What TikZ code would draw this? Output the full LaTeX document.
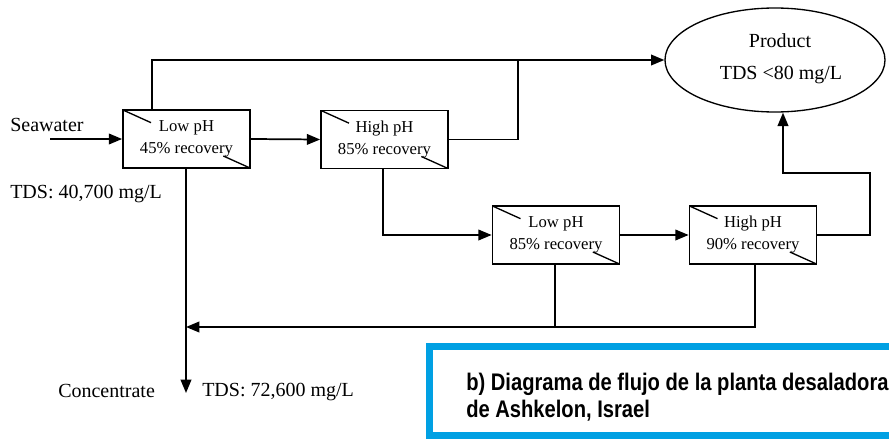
\documentclass[tikz,border=0pt]{standalone}
\usepackage{fontspec}
\setmainfont{Liberation Serif}
\newfontfamily\captfont[FakeStretch=0.84]{Liberation Sans}
\usetikzlibrary{arrows.meta,shapes.geometric,calc}
\definecolor{capblue}{RGB}{0,160,227}
\begin{document}
\begin{tikzpicture}[x=0.75pt,y=-0.75pt,
  flow/.style={line width=1.3pt,-{Triangle[length=10pt,width=8pt]}},
  plain/.style={line width=1.3pt},
  stage/.style={draw,line width=1.3pt,minimum width=95.25pt,minimum height=43.5pt,inner sep=0pt,
    align=center,font=\fontsize{12.5}{16.5}\selectfont,
    path picture={
      \draw[line width=1pt] (path picture bounding box.north west) -- ++(21pt,-9.5pt);
      \draw[line width=1pt] (path picture bounding box.south east) -- ++(-20pt,9pt);
    }},
  lbl/.style={font=\fontsize{15}{18}\selectfont,inner sep=0pt}
]
\useasboundingbox (0,0) rectangle (889,439);
% nodes
\node[stage] (b1) at (186.5,139) {Low pH\\45\% recovery};
\node[stage] (b2) at (384.5,139.5) {High pH\\85\% recovery};
\node[stage] (b3) at (556,235) {Low pH\\85\% recovery};
\node[stage] (b4) at (753,235) {High pH\\90\% recovery};
\node[draw,ellipse,line width=1pt,minimum width=165pt,minimum height=78pt,inner sep=0pt] (prod) at (775,60) {};
\node[lbl] (ptitle) at (780,41) {Product};
\node[lbl] (ptds) at (781,75) {TDS <80 mg/L};
\node[lbl,anchor=base west] (sea) at (10,131) {Seawater};
\node[lbl,anchor=base west] (tds1) at (10,198) {TDS: 40,700 mg/L};
\node[lbl,anchor=base west] (conc) at (58,397) {Concentrate};
\node[lbl,anchor=base west] (tds2) at (202,396) {TDS: 72,600 mg/L};
% coordinates
\coordinate (sw) at (50,139);
\coordinate (t1) at (152,110);
\coordinate (j1) at (518,60);
\coordinate (d2) at (383,168);
\coordinate (r1) at (870,235);
\coordinate (r2) at (783,173);
\coordinate (cs) at (186,168);
\coordinate (cend) at (186,393);
\coordinate (rj) at (186,327);
\coordinate (d3) at (555,263);
\coordinate (d3b) at (555,327);
\coordinate (d4) at (755,263);
\coordinate (d4b) at (755,327);
% connectors
\draw[flow] (sw) -- (b1.west);
\draw[flow] (b1.east) -- (b2.west);
\draw[flow] (t1) |- (prod.west);
\draw[plain] (b2.east) -| (j1);
\draw[flow] (d2) |- (b3.west);
\draw[flow] (b3.east) -- (b4.west);
\draw[flow] (b4.east) -| (r1 |- r2) -| (prod.south -| r2);
\draw[flow] (cs) -- (cend);
\draw[plain] (d3) -- (d3b);
\draw[flow] (d4) -- (d4b) -- (rj);
% caption box
\draw[capblue,line width=4.9pt] (429.5,346.5) rectangle (900,435.5);
\node[anchor=base west,inner sep=0pt,font=\captfont\bfseries\fontsize{18}{20.25}\selectfont] (cap1) at (466,390)
  {b) Diagrama de flujo de la planta desaladora};
\node[anchor=base west,inner sep=0pt,font=\captfont\bfseries\fontsize{18}{20.25}\selectfont] (cap2) at (466,417)
  {de Ashkelon, Israel};
\end{tikzpicture}
\end{document}
